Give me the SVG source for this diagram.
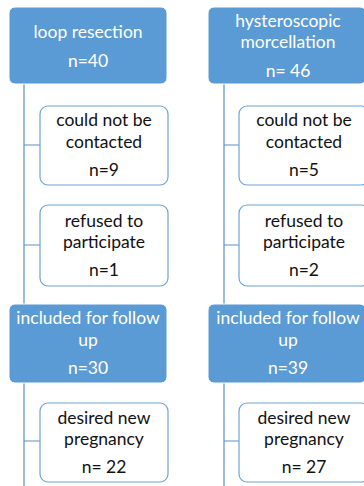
<svg xmlns="http://www.w3.org/2000/svg" width="364" height="486" viewBox="0 0 364 486">
<style>
.blue{fill:#5b9bd5;stroke:#ffffff;stroke-width:1}
.white{fill:#ffffff;stroke:#6fa3d8;stroke-width:1.2}
.tw{font-family:Lato,"Liberation Sans",sans-serif;font-size:17.5px;fill:#ffffff;text-anchor:middle}
.tb{font-family:Lato,"Liberation Sans",sans-serif;font-size:17.5px;fill:#111111;text-anchor:middle}
.conn{stroke:#5b8fc9;stroke-width:1.2;fill:none}
</style>
<rect width="364" height="486" fill="#ffffff"/>
<g id="connectors">
<path class="conn" d="M24 84V486M24 145H40M24 245H40M24 441H40"/>
<path class="conn" d="M224 84V486M224 145H239M224 245H239M224 441H239"/>
</g>
<g id="loop"><rect class="blue" x="9" y="7" width="158" height="77" rx="6"/>
<text class="tw" x="88" y="38">loop resection</text><text class="tw" x="88" y="67">n=40</text></g>
<g id="left-contact"><rect class="white" x="40" y="106" width="128" height="79" rx="8"/>
<text class="tb" x="104" y="126">could not be</text><text class="tb" x="104" y="148">contacted</text><text class="tb" x="104" y="176">n=9</text></g>
<g id="left-refused"><rect class="white" x="40" y="205" width="128" height="81" rx="8"/>
<text class="tb" x="104" y="227">refused to</text><text class="tb" x="104" y="248">participate</text><text class="tb" x="104" y="276">n=1</text></g>
<g id="left-included"><rect class="blue" x="9" y="304" width="158" height="79" rx="6"/>
<text class="tw" x="88" y="324">included for follow</text><text class="tw" x="88" y="346">up</text><text class="tw" x="88" y="374">n=30</text></g>
<g id="left-desired"><rect class="white" x="40" y="403" width="128" height="79" rx="8"/>
<text class="tb" x="104" y="424">desired new</text><text class="tb" x="104" y="445">pregnancy</text><text class="tb" x="104" y="473">n= 22</text></g>
<g id="hyst"><rect class="blue" x="208" y="7" width="158" height="77" rx="6"/>
<text class="tw" x="288" y="27">hysteroscopic</text><text class="tw" x="288" y="48">morcellation</text><text class="tw" x="288" y="77">n= 46</text></g>
<g id="right-contact"><rect class="white" x="239" y="106" width="130" height="79" rx="8"/>
<text class="tb" x="304" y="126">could not be</text><text class="tb" x="304" y="148">contacted</text><text class="tb" x="304" y="176">n=5</text></g>
<g id="right-refused"><rect class="white" x="239" y="205" width="130" height="81" rx="8"/>
<text class="tb" x="304" y="227">refused to</text><text class="tb" x="304" y="248">participate</text><text class="tb" x="304" y="276">n=2</text></g>
<g id="right-included"><rect class="blue" x="208" y="304" width="158" height="79" rx="6"/>
<text class="tw" x="288" y="324">included for follow</text><text class="tw" x="288" y="346">up</text><text class="tw" x="288" y="374">n=39</text></g>
<g id="right-desired"><rect class="white" x="239" y="403" width="130" height="79" rx="8"/>
<text class="tb" x="304" y="424">desired new</text><text class="tb" x="304" y="445">pregnancy</text><text class="tb" x="304" y="473">n= 27</text></g>
</svg>
